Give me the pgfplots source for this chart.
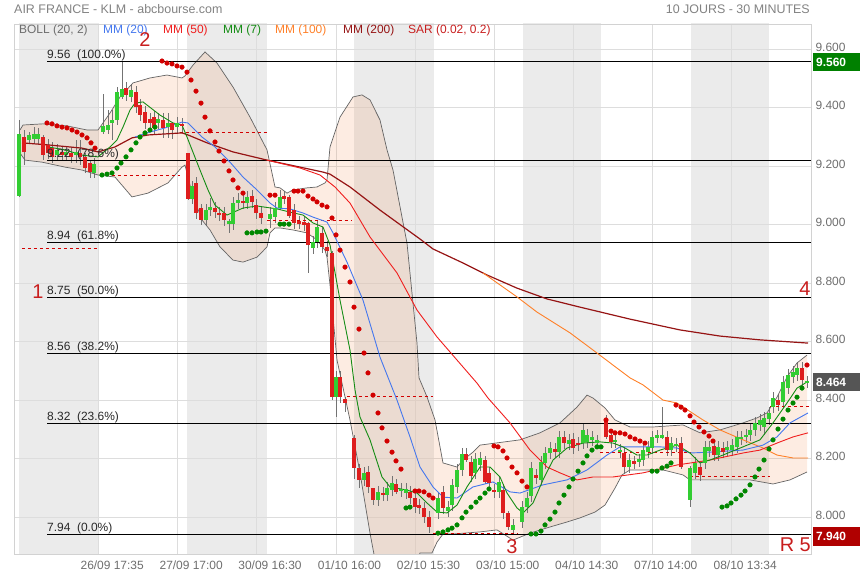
\documentclass[border=0pt]{standalone}
\usepackage{pgfplots}
\pgfplotsset{compat=1.18}
\usepackage{pgfplotstable}
\usepgfplotslibrary{fillbetween}
\usepackage{fontspec}
\setmainfont{Liberation Sans}
\definecolor{gridc}{RGB}{221,221,221}
\definecolor{framec}{RGB}{210,210,210}
\definecolor{dayc}{RGB}{235,235,235}
\definecolor{candleR}{RGB}{222,30,30}
\definecolor{candleG}{RGB}{50,205,50}
\definecolor{wickc}{RGB}{115,115,115}
\definecolor{sarR}{RGB}{210,0,0}
\definecolor{sarG}{RGB}{0,135,0}
\definecolor{mmA}{RGB}{68,119,238}
\definecolor{mmB}{RGB}{240,30,30}
\definecolor{mmC}{RGB}{20,140,20}
\definecolor{mmD}{RGB}{255,128,40}
\definecolor{mmE}{RGB}{150,20,20}
\definecolor{bandc}{RGB}{241,128,62}
\definecolor{bandl}{RGB}{100,100,100}
\definecolor{txtg}{RGB}{110,110,110}
\definecolor{titg}{RGB}{130,130,130}
\definecolor{annc}{RGB}{200,30,30}
\definecolor{fibc}{RGB}{40,40,40}
\definecolor{boxg}{RGB}{0,128,0}
\definecolor{boxd}{RGB}{85,85,85}
\definecolor{boxr}{RGB}{176,0,0}

\pgfplotsset{
  candle/.style={only marks, mark=*, mark size=0pt, mark options={draw=none, fill=none},
    error bars/y dir=both, error bars/y explicit, error bars/error mark=none,
    error bars/error mark options={draw=none, fill=none, mark size=0pt}},
}

% up candles: x open high low close
\pgfplotstableread{
x o h l c
19 9.098 9.358 9.095 9.310
29 9.290 9.317 9.280 9.307
34 9.293 9.334 9.275 9.310
38 9.293 9.330 9.275 9.310
57 9.238 9.276 9.218 9.256
66 9.238 9.269 9.218 9.249
76 9.238 9.290 9.211 9.249
94 9.177 9.228 9.160 9.208
103 9.317 9.447 9.310 9.338
108 9.324 9.392 9.310 9.341
112 9.348 9.392 9.290 9.358
117 9.358 9.470 9.340 9.454
122 9.437 9.560 9.430 9.464
131 9.437 9.480 9.420 9.461
158 9.348 9.382 9.328 9.362
168 9.334 9.382 9.297 9.348
177 9.334 9.368 9.314 9.348
192 9.088 9.150 9.070 9.132
206 9.016 9.070 8.996 9.050
210 9.050 9.090 9.030 9.061
229 9.006 9.020 8.972 9.009
233 9.002 9.094 8.982 9.074
238 9.074 9.110 9.054 9.085
247 9.074 9.115 9.054 9.095
270 9.020 9.060 8.990 9.037
275 9.026 9.077 9.006 9.057
280 9.057 9.120 9.050 9.095
313 8.920 8.961 8.900 8.941
317 8.941 9.012 8.921 8.992
336 8.411 8.500 8.342 8.479
364 8.127 8.171 8.107 8.151
378 8.058 8.106 8.038 8.086
387 8.075 8.119 8.055 8.099
392 8.092 8.140 8.072 8.116
401 8.090 8.116 8.070 8.096
406 8.082 8.116 8.062 8.096
438 8.014 8.085 7.994 8.065
448 8.021 8.054 8.001 8.034
452 8.041 8.130 8.021 8.110
457 8.103 8.181 8.083 8.161
462 8.161 8.236 8.141 8.216
475 8.151 8.218 8.131 8.198
480 8.178 8.222 8.158 8.202
499 8.086 8.140 8.066 8.120
513 7.956 7.993 7.940 7.973
522 7.983 8.054 7.963 8.034
527 8.034 8.085 8.014 8.065
531 8.072 8.188 8.052 8.168
541 8.127 8.208 8.107 8.188
545 8.185 8.239 8.165 8.219
550 8.219 8.256 8.199 8.236
559 8.222 8.294 8.202 8.274
569 8.250 8.283 8.230 8.263
583 8.253 8.320 8.233 8.298
587 8.257 8.301 8.237 8.281
592 8.263 8.294 8.243 8.274
597 8.257 8.280 8.237 8.260
615 8.257 8.283 8.237 8.263
620 8.222 8.249 8.202 8.229
629 8.171 8.215 8.151 8.195
639 8.192 8.215 8.172 8.195
643 8.195 8.249 8.175 8.229
648 8.222 8.260 8.202 8.240
652 8.236 8.294 8.216 8.274
657 8.274 8.297 8.254 8.277
662 8.274 8.376 8.267 8.277
671 8.229 8.273 8.209 8.253
676 8.243 8.270 8.223 8.250
690 8.058 8.175 8.034 8.168
695 8.151 8.205 8.131 8.185
705 8.185 8.260 8.165 8.240
709 8.226 8.260 8.206 8.240
718 8.212 8.260 8.192 8.240
727 8.229 8.260 8.209 8.240
732 8.229 8.266 8.209 8.246
737 8.240 8.294 8.220 8.274
741 8.267 8.294 8.247 8.274
746 8.274 8.301 8.254 8.281
750 8.281 8.318 8.261 8.298
755 8.298 8.342 8.278 8.322
760 8.315 8.352 8.295 8.332
764 8.308 8.359 8.280 8.339
769 8.335 8.375 8.315 8.355
773 8.376 8.427 8.356 8.407
783 8.393 8.482 8.373 8.462
788 8.441 8.506 8.421 8.486
793 8.479 8.516 8.459 8.496
797 8.486 8.530 8.466 8.510
807 8.458 8.484 8.440 8.464
}\upc

% down candles: x open high low close
\pgfplotstableread{
x o h l c
24 9.300 9.324 9.204 9.249
43 9.300 9.307 9.221 9.238
48 9.273 9.293 9.225 9.245
52 9.262 9.282 9.212 9.232
62 9.249 9.269 9.218 9.238
71 9.245 9.265 9.212 9.232
80 9.245 9.290 9.204 9.232
85 9.232 9.245 9.177 9.194
90 9.211 9.220 9.160 9.180
126 9.468 9.488 9.424 9.444
136 9.454 9.474 9.383 9.403
140 9.409 9.429 9.355 9.375
145 9.386 9.406 9.328 9.348
150 9.362 9.382 9.328 9.348
154 9.368 9.388 9.311 9.331
163 9.358 9.382 9.297 9.331
172 9.348 9.350 9.293 9.324
182 9.346 9.366 9.318 9.338
188 9.245 9.245 9.085 9.088
196 9.143 9.163 9.020 9.040
201 9.057 9.070 9.000 9.016
215 9.057 9.077 9.023 9.043
219 9.040 9.060 9.014 9.034
224 9.040 9.060 8.996 9.016
243 9.081 9.101 9.054 9.074
252 9.098 9.120 9.058 9.078
256 9.067 9.087 9.020 9.040
261 9.040 9.060 9.003 9.023
284 9.095 9.115 9.071 9.091
289 9.095 9.100 9.023 9.030
294 9.050 9.070 8.986 9.006
299 9.009 9.029 8.986 9.006
304 9.009 9.029 8.979 8.999
308 9.006 9.010 8.835 8.931
322 8.972 8.992 8.904 8.924
327 8.924 8.944 8.890 8.910
332 8.903 8.910 8.400 8.411
340 8.479 8.500 8.390 8.411
345 8.404 8.410 8.360 8.390
354 8.270 8.280 8.130 8.168
359 8.168 8.180 8.100 8.127
368 8.154 8.174 8.083 8.103
373 8.099 8.100 8.040 8.058
383 8.082 8.102 8.055 8.075
396 8.113 8.130 8.079 8.086
410 8.086 8.106 8.045 8.065
415 8.065 8.085 8.014 8.034
419 8.041 8.061 8.011 8.031
424 8.031 8.051 7.980 8.000
429 8.000 8.020 7.946 7.966
443 8.086 8.106 8.011 8.031
466 8.216 8.235 8.188 8.195
471 8.188 8.208 8.120 8.140
485 8.195 8.210 8.113 8.120
489 8.151 8.171 8.096 8.116
494 8.092 8.112 8.066 8.086
503 8.092 8.112 7.994 8.014
508 8.014 8.020 7.955 7.966
536 8.144 8.164 8.113 8.133
555 8.233 8.253 8.202 8.222
564 8.274 8.294 8.233 8.253
573 8.267 8.287 8.216 8.236
578 8.253 8.273 8.226 8.246
606 8.332 8.350 8.267 8.274
611 8.281 8.301 8.237 8.257
624 8.219 8.239 8.151 8.171
634 8.188 8.208 8.165 8.185
667 8.274 8.294 8.209 8.229
681 8.253 8.273 8.164 8.171
700 8.171 8.191 8.124 8.144
714 8.243 8.263 8.192 8.212
723 8.236 8.256 8.202 8.222
778 8.400 8.420 8.363 8.383
802 8.510 8.530 8.449 8.469
}\dnc

\begin{document}
\begin{tikzpicture}
\begin{axis}[
  at={(14.5bp,26bp)}, anchor=south west,
  scale only axis, width=796.5bp, height=530bp,
  xmin=14.5, xmax=811, ymin=7.8735, ymax=9.6866,
  set layers, clip mode=individual,
  axis line style={draw=framec},
  grid=major, major grid style={draw=gridc, line width=0.8bp},
  major tick length=0pt,
  xtick={98.7,177.7,256.5,336,415,494.3,573.3,652.3,731.7},
  xticklabels={26/09 17:35,27/09 17:00,30/09 16:30,01/10 16:00,02/10 15:30,03/10 15:00,04/10 14:30,07/10 14:00,08/10 13:34},
  xticklabel style={font=\fontsize{12}{14}\selectfont, text=txtg, xshift=13.5bp, yshift=-3bp},
  ytick={8,8.2,8.4,8.6,8.8,9.0,9.2,9.4,9.6},
  yticklabel pos=right,
  yticklabel style={font=\fontsize{12}{14}\selectfont, text=txtg, yshift=2bp, xshift=1bp},
  /pgf/number format/fixed, /pgf/number format/fixed zerofill,
  /pgf/number format/precision=3, /pgf/number format/assume math mode=true,
]
% day shading
\addplot[fill=dayc, draw=none, on layer=axis background] coordinates {(19.3,7.8) (19.3,9.7) (98.7,9.7) (98.7,7.8)} -- cycle;
\addplot[fill=dayc, draw=none, on layer=axis background] coordinates {(187.3,7.8) (187.3,9.7) (266.7,9.7) (266.7,7.8)} -- cycle;
\addplot[fill=dayc, draw=none, on layer=axis background] coordinates {(354.3,7.8) (354.3,9.7) (434,9.7) (434,7.8)} -- cycle;
\addplot[fill=dayc, draw=none, on layer=axis background] coordinates {(522.7,7.8) (522.7,9.7) (601,9.7) (601,7.8)} -- cycle;
\addplot[fill=dayc, draw=none, on layer=axis background] coordinates {(690.7,7.8) (690.7,9.7) (769,9.7) (769,7.8)} -- cycle;

% Bollinger bands
\addplot[name path=bbU, draw=bandl, line width=0.7bp] coordinates {
(20,9.324) (23,9.341) (43,9.345) (67,9.338) (87,9.324) (98,9.324) (103,9.348) (110,9.382)
(120,9.437) (133,9.485) (150,9.502) (167,9.512) (182,9.502) (185,9.509) (193,9.546) (205,9.591)
(217,9.553) (233,9.471) (250,9.368) (267,9.256) (275,9.129) (280,9.126) (287,9.108) (293,9.119)
(307,9.126) (317,9.129) (325,9.143) (327,9.153) (330,9.266) (340,9.368) (353,9.437) (362,9.444)
(370,9.427) (380,9.358) (387,9.256) (393,9.187) (402,9.026) (407,8.937) (412,8.766) (417,8.595)
(419,8.476) (427,8.411) (435,8.332) (443,8.185) (457,8.171) (463,8.195) (473,8.222) (480,8.246)
(520,8.264) (540,8.288) (560,8.322) (577,8.376) (587,8.417) (593,8.407) (605,8.373) (615,8.332)
(630,8.308) (653,8.308) (683,8.315) (700,8.288) (720,8.298) (743,8.322) (757,8.339) (767,8.356)
(777,8.410) (787,8.479) (797,8.527) (807,8.554)};
\addplot[name path=bbL, draw=bandl, line width=0.7bp] coordinates {
(20,9.245) (25,9.221) (42,9.214) (65,9.197) (82,9.187) (98,9.170) (115,9.163) (132,9.095)
(148,9.108) (168,9.143) (182,9.197) (185,9.204) (192,9.108) (202,9.016) (210,8.982) (220,8.924)
(233,8.879) (243,8.872) (257,8.889) (267,8.924) (270,8.972) (275,8.989) (280,8.989) (293,8.982)
(307,8.972) (317,8.948) (325,8.913) (327,8.889) (330,8.794) (337,8.537) (350,8.332) (360,8.151)
(370,7.945) (376,7.836) (415,7.836) (420,7.877) (432,7.877) (437,7.914) (443,7.942) (453,7.942)
(480,7.949) (497,7.956) (513,7.921) (530,7.945) (550,7.966) (567,7.983) (580,7.997) (595,8.017)
(605,8.041) (615,8.099) (622,8.144) (630,8.161) (663,8.161) (683,8.144) (690,8.127) (710,8.127)
(750,8.127) (773,8.113) (790,8.127) (807,8.154)};
\addplot[fill=bandc, fill opacity=0.15, draw=none] fill between[of=bbU and bbL];

% candle wicks
\addplot[on layer=pre main, candle, error bars/error bar style={draw=wickc, line width=0.7bp}]
  table[x=x, y expr={(\thisrow{h}+\thisrow{l})/2}, y error expr={(\thisrow{h}-\thisrow{l})/2}] {\upc};
\addplot[on layer=pre main, candle, error bars/error bar style={draw=wickc, line width=0.7bp}]
  table[x=x, y expr={(\thisrow{h}+\thisrow{l})/2}, y error expr={(\thisrow{h}-\thisrow{l})/2}] {\dnc};

% daily reference lines (dashed)
\addplot[sarR, dashed, line width=0.8bp] coordinates {(22,8.920) (98,8.920)};
\addplot[sarR, dashed, line width=0.8bp] coordinates {(100,9.170) (180,9.170)};
\addplot[sarR, dashed, line width=0.8bp] coordinates {(180,9.317) (267,9.317)};
\addplot[sarR, dashed, line width=0.8bp] coordinates {(267,9.016) (352,9.016)};
\addplot[sarR, dashed, line width=0.8bp] coordinates {(347,8.411) (433,8.411)};
\addplot[sarR, dashed, line width=0.8bp] coordinates {(433,7.945) (517,7.945)};
\addplot[sarR, dashed, line width=0.8bp] coordinates {(600,8.222) (690,8.222)};
\addplot[sarR, dashed, line width=0.8bp] coordinates {(690,8.140) (770,8.140)};
\addplot[sarR, dashed, line width=0.8bp] coordinates {(770,8.380) (810,8.380)};

% Fibonacci levels
\addplot[black, line width=1bp] coordinates {(47,9.56) (811,9.56)};
\addplot[black, line width=1bp] coordinates {(47,9.22) (811,9.22)};
\addplot[black, line width=1bp] coordinates {(47,8.94) (811,8.94)};
\addplot[black, line width=1bp] coordinates {(47,8.75) (811,8.75)};
\addplot[black, line width=1bp] coordinates {(47,8.56) (811,8.56)};
\addplot[black, line width=1bp] coordinates {(47,8.32) (811,8.32)};
\addplot[black, line width=1bp] coordinates {(47,7.94) (811,7.94)};

% MM 200
\addplot[mmE, line width=1.2bp] coordinates {
(22,9.280) (48,9.273) (82,9.262) (98,9.249) (115,9.266) (132,9.297) (148,9.307) (182,9.314)
(188,9.307) (207,9.280) (233,9.249) (267,9.221) (300,9.197) (323,9.180) (330,9.173) (350,9.129)
(380,9.050) (420,8.951) (433,8.917) (463,8.869) (487,8.828) (517,8.783) (547,8.746) (580,8.718)
(630,8.677) (680,8.640) (720,8.619) (760,8.606) (808,8.595)};
% MM 100
\addplot[mmD, line width=0.9bp] coordinates {
(483,8.835) (517,8.753) (537,8.701) (570,8.630) (597,8.561) (630,8.476) (643,8.452) (663,8.400)
(677,8.390) (703,8.332) (720,8.298) (743,8.264) (763,8.236) (777,8.212) (793,8.202) (808,8.202)};
% MM 50
\addplot[mmB, line width=0.9bp] coordinates {
(267,9.221) (300,9.194) (320,9.170) (335,9.129) (350,9.074) (370,8.958) (397,8.835) (417,8.708)
(437,8.616) (457,8.537) (477,8.458) (488,8.407) (510,8.322) (530,8.229) (547,8.171) (560,8.151)
(577,8.127) (593,8.137) (613,8.137) (643,8.151) (677,8.178) (710,8.195) (743,8.219) (760,8.229)
(777,8.253) (793,8.274) (808,8.288)};
% MM 20
\addplot[mmA, line width=0.9bp] coordinates {
(135,9.300) (147,9.314) (165,9.331) (182,9.351) (188,9.348) (202,9.300) (215,9.266) (230,9.214)
(243,9.163) (257,9.119) (270,9.074) (277,9.057) (290,9.054) (303,9.040) (313,9.026) (327,9.009)
(333,8.972) (347,8.872) (363,8.742) (380,8.547) (397,8.400) (410,8.274) (420,8.171) (433,8.103)
(443,8.068) (457,8.065) (473,8.103) (493,8.120) (510,8.086) (520,8.082) (543,8.110) (567,8.127)
(587,8.161) (607,8.212) (620,8.240) (660,8.240) (677,8.236) (690,8.219) (710,8.222) (743,8.229)
(763,8.246) (777,8.274) (790,8.322) (808,8.356)};
% MM 7
\addplot[mmC, line width=0.9bp] coordinates {
(48,9.266) (65,9.256) (82,9.238) (98,9.232) (110,9.266) (117,9.290) (123,9.334) (130,9.392)
(135,9.416) (143,9.420) (160,9.375) (173,9.348) (182,9.341) (187,9.300) (200,9.187) (208,9.119)
(215,9.067) (227,9.033) (243,9.057) (257,9.064) (277,9.054) (290,9.043) (303,9.033) (313,9.006)
(323,8.992) (330,8.931) (340,8.742) (350,8.571) (355,8.435) (360,8.342) (370,8.264) (382,8.137)
(390,8.103) (407,8.092) (417,8.082) (427,8.048) (437,8.017) (447,8.014) (457,8.041) (467,8.103)
(480,8.171) (490,8.171) (500,8.137) (507,8.082) (517,8.031) (523,8.014) (533,8.048) (543,8.127)
(553,8.195) (567,8.236) (583,8.253) (600,8.257) (613,8.253) (623,8.240) (637,8.212) (647,8.212)
(660,8.229) (677,8.246) (690,8.219) (700,8.185) (710,8.195) (723,8.212) (743,8.240) (760,8.264)
(773,8.322) (787,8.390) (797,8.441) (807,8.462)};

% candle bodies
\addplot[candle, error bars/error bar style={draw=candleG, line width=3.4bp}]
  table[x=x, y expr={(\thisrow{o}+\thisrow{c})/2}, y error expr={max(abs(\thisrow{o}-\thisrow{c})/2,0.004)}] {\upc};
\addplot[candle, error bars/error bar style={draw=candleR, line width=3.4bp}]
  table[x=x, y expr={(\thisrow{o}+\thisrow{c})/2}, y error expr={max(abs(\thisrow{o}-\thisrow{c})/2,0.004)}] {\dnc};

% SAR
\addplot[only marks, mark=*, mark size=2.3bp, sarR, mark options={draw=sarR, fill=sarR}] coordinates {
(47,9.348) (52,9.345) (57,9.338) (62,9.334) (67,9.331) (72,9.324) (77,9.317) (82,9.307) (87,9.297) (91,9.280) (95,9.262)
(162,9.560) (167,9.553) (172,9.550) (177,9.543) (182,9.539) (187,9.522) (191,9.495) (196,9.457) (201,9.416) (205,9.368)
(210,9.321) (215,9.283) (219,9.252) (224,9.218) (229,9.184) (233,9.153) (238,9.126) (243,9.108)
(270,9.101) (275,9.101)
(294,9.115) (298,9.115) (303,9.115) (308,9.098) (313,9.088) (317,9.078) (322,9.067) (327,9.061) (332,9.023) (336,8.965)
(340,8.913) (345,8.855) (350,8.804) (354,8.718) (359,8.643) (364,8.561) (368,8.493) (373,8.417) (378,8.356) (382,8.305)
(387,8.260) (392,8.222) (396,8.192) (401,8.164)
(415,8.089) (419,8.089) (424,8.086) (429,8.075) (433,8.065)
(494,8.243) (498,8.240) (503,8.226) (507,8.202) (512,8.171) (517,8.151) (522,8.123) (527,8.103)
(606,8.332) (611,8.294) (615,8.288) (620,8.288) (625,8.284) (630,8.274) (635,8.267) (640,8.260) (645,8.253)
(676,8.383) (681,8.376) (685,8.366) (690,8.346) (694,8.325) (699,8.308) (704,8.291) (709,8.277) (713,8.260)
(807,8.520)};
\addplot[only marks, mark=*, mark size=2.3bp, sarG, mark options={draw=sarG, fill=sarG}] coordinates {
(102,9.170) (107,9.173) (112,9.177) (117,9.194) (121,9.211) (126,9.232) (131,9.256) (136,9.280) (140,9.300) (145,9.314)
(150,9.324) (155,9.334)
(247,8.972) (252,8.972) (257,8.975) (261,8.975) (266,8.978)
(280,9.002) (284,9.002) (289,9.002)
(406,8.031) (410,8.034)
(438,7.945) (443,7.949) (448,7.956) (452,7.962) (457,7.973) (462,7.997) (466,8.017) (471,8.034) (476,8.051) (480,8.065)
(485,8.082) (489,8.096)
(531,7.942) (536,7.942) (541,7.952) (545,7.973) (550,7.993) (555,8.017) (559,8.048) (564,8.075) (569,8.103) (573,8.130)
(578,8.157) (583,8.185) (587,8.209) (592,8.229) (597,8.240) (601,8.240)
(652,8.157) (657,8.157) (662,8.168) (667,8.174) (671,8.185)
(722,8.034) (727,8.038) (731,8.048) (736,8.062) (741,8.075) (745,8.089) (750,8.110) (755,8.137) (759,8.164) (764,8.195)
(769,8.233) (773,8.264) (778,8.301) (783,8.335) (788,8.366) (793,8.390) (797,8.410) (802,8.441)};

% Fibonacci labels
\begin{scope}[every node/.style={anchor=base west, inner sep=0pt, yshift=3bp, font=\fontsize{12}{14}\selectfont, text=fibc}]
\node at (axis cs:47,9.56) {9.56\ \ (100.0\%)};
\node at (axis cs:47,9.22) {9.22\ \ (78.6\%)};
\node at (axis cs:47,8.94) {8.94\ \ (61.8\%)};
\node at (axis cs:47,8.75) {8.75\ \ (50.0\%)};
\node at (axis cs:47,8.56) {8.56\ \ (38.2\%)};
\node at (axis cs:47,8.32) {8.32\ \ (23.6\%)};
\node at (axis cs:47,7.94) {7.94\ \ (0.0\%)};
\end{scope}

% indicator legend row
\begin{scope}[every node/.style={anchor=west, inner sep=0pt, font=\fontsize{12}{14}\selectfont}]
\node[text=txtg] at (axis cs:19,9.663) {BOLL (20, 2)};
\node[text=mmA] at (axis cs:103,9.663) {MM (20)};
\node[text=mmB] at (axis cs:163,9.663) {MM (50)};
\node[text=mmC] at (axis cs:223,9.663) {MM (7)};
\node[text=mmD] at (axis cs:275,9.663) {MM (100)};
\node[text=mmE] at (axis cs:343,9.663) {MM (200)};
\node[text=annc] at (axis cs:408,9.663) {SAR (0.02, 0.2)};
\end{scope}

% wave annotations
\begin{scope}[every node/.style={inner sep=0pt, font=\fontsize{20}{22}\selectfont, text=annc}]
\node at (axis cs:38,8.770) {1};
\node at (axis cs:145,9.632) {2};
\node at (axis cs:512,7.897) {3};
\node at (axis cs:805,8.780) {4};
\node[anchor=east] at (axis cs:811,7.904) {R 5};
\end{scope}
\end{axis}

% titles
\node[anchor=west, inner sep=0pt, font=\fontsize{12.5}{14}\selectfont, text=titg] at (14bp,571bp) {AIR FRANCE - KLM - abcbourse.com};
\node[anchor=east, inner sep=0pt, font=\fontsize{12.5}{14}\selectfont, text=titg] at (810bp,571bp) {10 JOURS - 30 MINUTES};

% price boxes
\fill[boxg] (813bp,509bp) rectangle (860bp,527bp);
\node[anchor=west, inner sep=0pt, text=white, font=\bfseries\fontsize{12}{14}\selectfont] at (816bp,518bp) {9.560};
\fill[boxd] (813bp,189bp) rectangle (860bp,207bp);
\node[anchor=west, inner sep=0pt, text=white, font=\bfseries\fontsize{12}{14}\selectfont] at (816bp,198bp) {8.464};
\fill[boxr] (813bp,34bp) rectangle (860bp,53bp);
\node[anchor=west, inner sep=0pt, text=white, font=\bfseries\fontsize{12}{14}\selectfont] at (816bp,43.5bp) {7.940};
\pgfresetboundingbox
\useasboundingbox (0,0) rectangle (860bp,580bp);
\end{tikzpicture}
\end{document}
